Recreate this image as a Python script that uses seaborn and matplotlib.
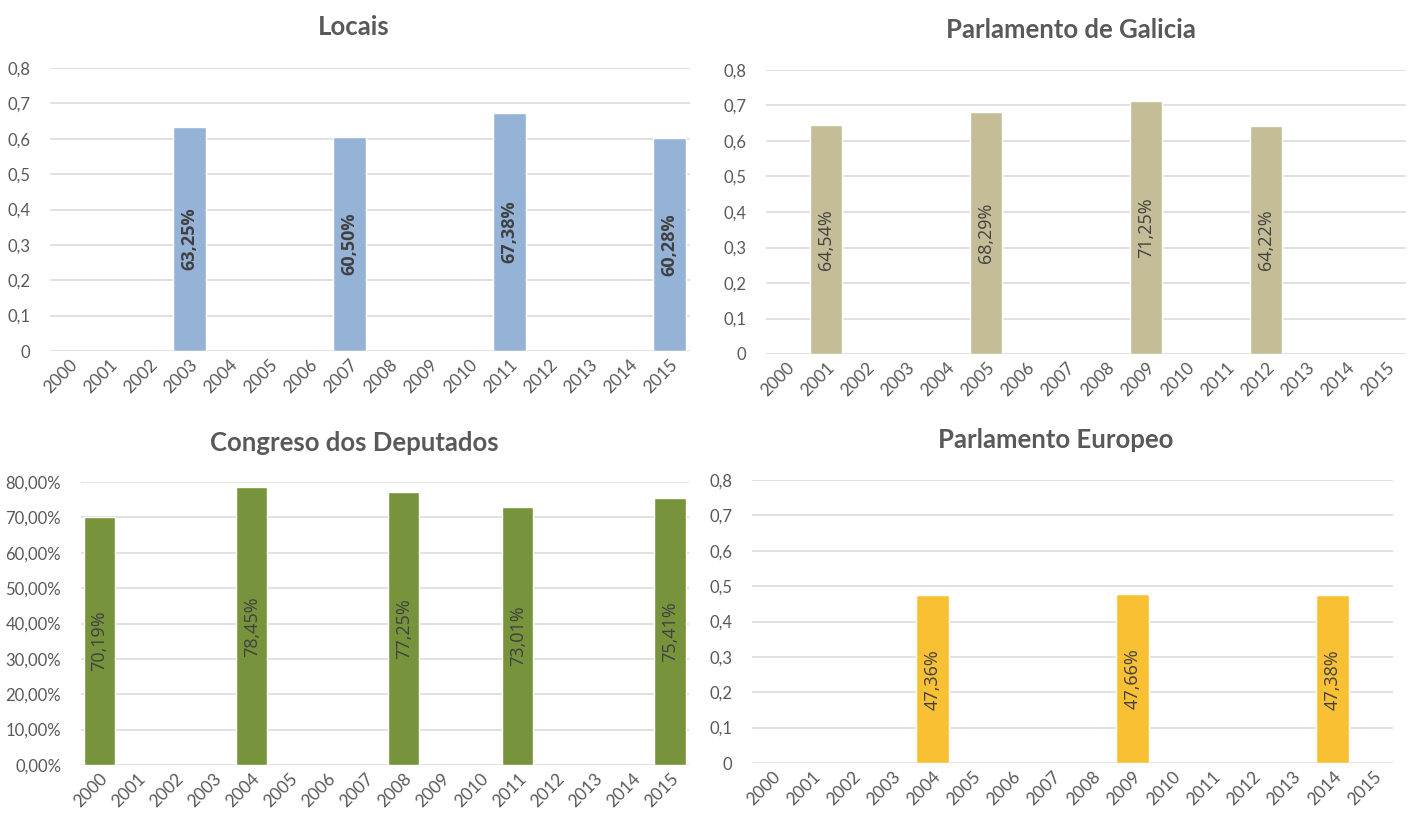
import matplotlib
matplotlib.use("Agg")
import matplotlib.pyplot as plt
import seaborn as sns
import pandas as pd
from matplotlib.ticker import FuncFormatter, MultipleLocator

# Years on the category axis (shared by all four panels)
years = [str(y) for y in range(2000, 2016)]

# Turnout per election type (fraction of voters)
locais_years = ["2003", "2007", "2011", "2015"]
locais_vals = [0.6325, 0.6050, 0.6738, 0.6028]

galicia_years = ["2001", "2005", "2009", "2012"]
galicia_vals = [0.6454, 0.6829, 0.7125, 0.6422]

congreso_years = ["2000", "2004", "2008", "2011", "2015"]
congreso_vals = [0.7019, 0.7845, 0.7725, 0.7301, 0.7541]

europeo_years = ["2004", "2009", "2014"]
europeo_vals = [0.4736, 0.4766, 0.4738]

sns.set_theme(style="white")
plt.rcParams['font.family'] = ['Lato', 'DejaVu Sans']

GRID = '#D9D9D9'
TICK = '#595959'
LABEL = '#404040'


def comma_dec(v, pos):
    if abs(v) < 1e-9:
        return "0"
    return f"{v:.1f}".replace('.', ',')


def comma_pct(v, pos):
    return f"{v * 100:.2f}%".replace('.', ',')


def panel(fig, rect, yrs, vals, color, title, title_xy, ymax, step, fmt, bold=False):
    ax = fig.add_axes(rect)
    df = pd.DataFrame({"ano": yrs, "valor": vals})
    sns.barplot(data=df, x="ano", y="valor", order=years, color=color,
                saturation=1, width=0.82, ax=ax)
    ax.set_xlim(-0.5, len(years) - 0.5)
    ax.set_ylim(0, ymax)
    ax.yaxis.set_major_locator(MultipleLocator(step))
    ax.yaxis.set_major_formatter(FuncFormatter(fmt))
    ax.grid(axis='y', color=GRID, linewidth=1.1)
    ax.set_axisbelow(True)
    for s in ax.spines.values():
        s.set_visible(False)
    ax.tick_params(axis='both', length=0, labelcolor=TICK)
    ax.tick_params(axis='y', pad=14, labelsize=12)
    ax.tick_params(axis='x', pad=4, labelsize=12.5)
    for t in ax.get_xticklabels():
        t.set_rotation(45)
        t.set_ha('right')
        t.set_rotation_mode('anchor')
    ax.set_xlabel('')
    ax.set_ylabel('')
    labels = [f"{v * 100:.2f}%".replace('.', ',') for v in vals]
    ax.bar_label(ax.containers[0], labels=labels, label_type='center',
                 rotation=90, fontsize=13, color=LABEL,
                 fontweight='bold' if bold else 'normal',
                 fontfamily='Open Sans')
    fig.text(title_xy[0] / 1412, 1 - title_xy[1] / 819, title,
             ha='center', va='center', fontsize=18.5, fontweight='bold', color=TICK)
    return ax


fig = plt.figure(figsize=(14.12, 8.19), dpi=100)
fig.patch.set_facecolor('white')

panel(fig, [49.5 / 1412, 468 / 819, 640 / 1412, 283 / 819],
      locais_years, locais_vals, '#95B3D7', 'Locais', (354, 27),
      0.8, 0.1, comma_dec, bold=True)
panel(fig, [766 / 1412, 465 / 819, 640 / 1412, 284 / 819],
      galicia_years, galicia_vals, '#C4BD97', 'Parlamento de Galicia', (1071, 30),
      0.8, 0.1, comma_dec)
panel(fig, [80.5 / 1412, 54 / 819, 608.5 / 1412, 283 / 819],
      congreso_years, congreso_vals, '#77933C', 'Congreso dos Deputados', (354, 443),
      0.8, 0.1, comma_pct)
panel(fig, [752 / 1412, 56 / 819, 641 / 1412, 283 / 819],
      europeo_years, europeo_vals, '#F9C033', 'Parlamento Europeo', (1056, 440),
      0.8, 0.1, comma_dec)

fig.savefig('out.png', dpi=100, facecolor='white')
